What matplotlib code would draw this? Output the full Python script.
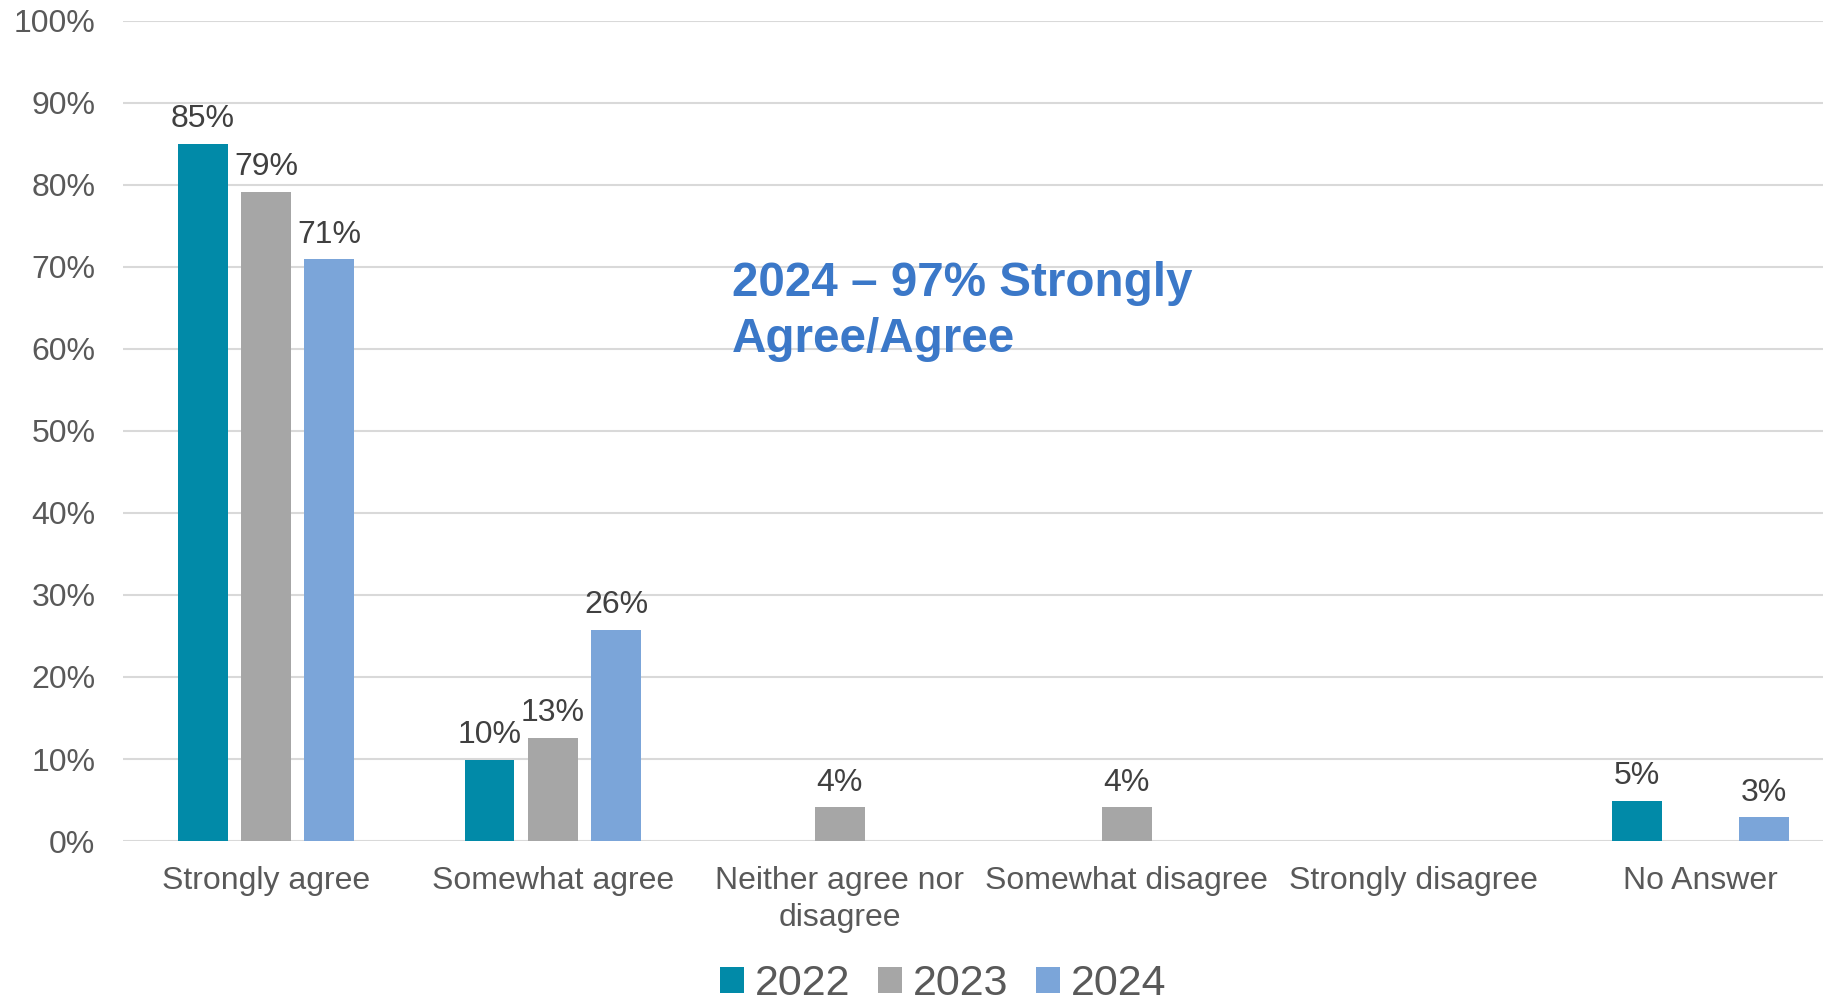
import matplotlib
matplotlib.use("Agg")
import matplotlib.pyplot as plt
import numpy as np
from matplotlib.patches import Patch

categories = ["Strongly agree", "Somewhat agree", "Neither agree nor\ndisagree",
              "Somewhat disagree", "Strongly disagree", "No Answer"]
years = ["2022", "2023", "2024"]
v2022 = [85.0, 9.9, 0, 0, 0, 4.9]
v2023 = [79.1, 12.6, 4.1, 4.1, 0, 0]
v2024 = [70.9, 25.7, 0, 0, 0, 2.9]
yticks = [0, 10, 20, 30, 40, 50, 60, 70, 80, 90, 100]
annotation = "2024 \u2013 97% Strongly\nAgree/Agree"

colors = ["#018AA8", "#A6A6A6", "#7BA5D9"]
plt.rcParams['font.family'] = ['Liberation Sans', 'DejaVu Sans']

fig = plt.figure(figsize=(18.24, 10.01), dpi=100)
ax = fig.add_axes([0.0672, 0.1598, 0.9437, 0.8195])

x = np.arange(len(categories))
step = 0.221
width = 0.174
series = [v2022, v2023, v2024]
for k, (vals, col) in enumerate(zip(series, colors)):
    xs = x + (k - 1) * step
    for xi, v in zip(xs, vals):
        if v > 0:
            ax.bar(xi, v, width=width, color=col, zorder=3)
            ax.annotate(f"{v:.0f}%", (xi, v), xytext=(0, 7), textcoords="offset points",
                        ha="center", va="bottom", fontsize=23, color="#404040")

ax.set_xlim(-0.5, 5.5)
ax.set_ylim(0, 100)
ax.set_yticks(yticks)
ax.set_yticklabels([f"{t}%" for t in yticks])
ax.set_xticks(x)
ax.set_xticklabels(categories, linespacing=1.3)
ax.tick_params(axis="y", length=0, pad=19.5, labelsize=23, labelcolor="#595959")
ax.tick_params(axis="x", length=0, pad=18, labelsize=23, labelcolor="#595959")
ax.grid(axis="y", color="#D9D9D9", linewidth=1.5, zorder=0)
for s in ax.spines.values():
    s.set_visible(False)

ax.text(1.623, 59.6, annotation, fontsize=34.3, fontweight="bold",
        color="#3B78C8", ha="left", va="baseline", linespacing=1.31)

handles = [Patch(facecolor=c, edgecolor="none") for c in colors]
fig.legend(handles, years, loc="center", bbox_to_anchor=(0.517, 0.017), ncol=3,
           frameon=False, fontsize=31, labelcolor="#595959", handlelength=0.55,
           handleheight=0.55, handletextpad=0.25, columnspacing=0.65)

fig.savefig("out.png", dpi=100)
